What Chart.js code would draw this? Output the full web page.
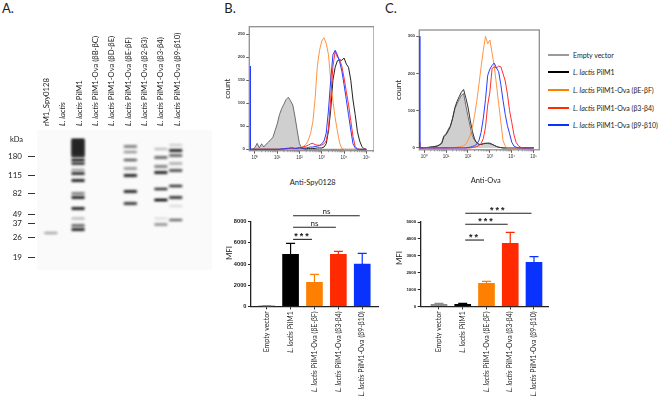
<!DOCTYPE html>
<html>
<head>
<meta charset="utf-8">
<script src="https://cdn.jsdelivr.net/npm/chart.js@4"></script>
<style>
  html, body { margin: 0; padding: 0; background: #fff; }
  body { width: 660px; height: 400px; position: relative; overflow: hidden; }
  canvas { position: absolute; }
  .note { position: absolute; white-space: nowrap; color: #222; font-family: Lato, sans-serif; transform: translate(-50%, -50%); }
  .key { position: absolute; left: 548px; width: 21px; height: 2px; }
  .keytext { position: absolute; left: 573px; white-space: nowrap; color: #222; font: 7px Lato, sans-serif; transform: translateY(-50%); }
</style>
</head>
<body>
<canvas id="blot"></canvas>
<canvas id="histB"></canvas>
<canvas id="histC"></canvas>
<canvas id="barB"></canvas>
<canvas id="barC"></canvas>
<script>
// ---- panel A: lanes and bands (distance = migration down the membrane) ----
const laneLabels = ['rM1_Spy0128', 'L. lactis', 'L. lactis PilM1', 'L. lactis PilM1-Ova (βB-βC)', 'L. lactis PilM1-Ova (βD-βE)',
  'L. lactis PilM1-Ova (βE-βF)', 'L. lactis PilM1-Ova (β2-β3)', 'L. lactis PilM1-Ova (β3-β4)', 'L. lactis PilM1-Ova (β9-β10)'];
const kdaLabels = ['180', '115', '82', '49', '37', '26', '19'];
const kdaDist = [26, 45, 63, 84, 93, 107, 127];

const rm1Lane = 0.25, rm1Dist = [103], rm1Dark = [0.28];
const pilLane = 1.92;
const pilDist = [10, 12, 14, 16, 18, 20, 22, 24, 26, 30, 33.5, 40, 43.5, 50.5, 63.5, 67.5, 78.5, 88.5, 95.5, 99.5];
const pilDark = [1, 1, 1, 1, 1, 1, 1, 0.9, 0.8, 0.85, 0.8, 0.3, 0.85, 1, 0.5, 1, 1, 0.22, 0.6, 0.9];
const befLane = 5.13;
const befDist = [16.5, 22, 30, 38.5, 45.5, 61.5, 73.5];
const befDark = [0.5, 0.35, 0.55, 0.4, 1, 0.9, 0.8];
const b34Lane = 7;
const b34Dist = [19, 27.5, 36.5, 42.5, 59, 70, 88.5, 94.5];
const b34Dark = [0.2, 0.6, 0.5, 1, 0.7, 0.9, 0.1, 0.4];
const b910Lane = 7.91;
const b910Dist = [15, 20.5, 25.5, 33.5, 40.5, 56, 67.5, 76, 90];
const b910Dark = [0.15, 0.9, 0.6, 0.3, 0.7, 0.7, 0.8, 0.1, 0.5];

// ---- flow cytometry histograms: shared fluorescence bins, one row per decade ----
const histX = [0.63, 0.63, 0.8,
  1, 1.26, 1.58, 2, 2.51, 3.16, 3.98, 5.01, 6.31, 7.94,
  10, 12.6, 15.8, 20, 25.1, 31.6, 39.8, 50.1, 63.1, 79.4,
  100, 126, 158, 200, 251, 316, 398, 501, 631, 794,
  1000, 1260, 1580, 2000, 2510, 3160, 3980, 5010, 6310, 7940,
  10000, 12600, 15800, 20000, 25100, 31600, 39800, 50100, 63100, 79400,
  100000];
const histXTicks = [1, 10, 100, 1000, 10000, 100000];
const histXLabels = ['10⁰', '10¹', '10²', '10³', '10⁴', '10⁵'];

const bYTicks = [0, 50, 100, 150, 200, 250];
const bEmpty = [0, 0, 0,
  4, 13, 3, 12, 5, 11, 15, 21, 25, 40,
  55, 75, 88, 98, 108, 113, 105, 96, 70, 40,
  12, 3, 1, 0, 0, 0, 0, 0, 0, 0,
  0, 0, 0, 0, 0, 0, 0, 0, 0, 0,
  0, 0, 0, 0, 0, 0, 0, 0, 0, 0,
  0];
const bPil = [0, 0, 0,
  0, 0, 0, 0, 0, 0, 0, 0, 0, 0,
  0, 0, 0, 0, 0, 1, 1, 1, 1, 1,
  1, 1, 1, 1, 2, 2, 2, 2, 3, 3,
  3, 5, 12, 40, 85, 150, 178, 192, 194, 193,
  198, 185, 178, 150, 107, 75, 38, 18, 6, 1,
  0];
const bBEF = [0, 0, 0,
  0, 0, 0, 0, 0, 0, 0, 0, 0, 0,
  0, 0, 0, 0, 0, 1, 1, 1, 1, 1,
  2, 4, 7, 11, 20, 35, 60, 110, 180, 215,
  235, 242, 230, 205, 150, 105, 68, 40, 14, 2,
  0, 0, 0, 0, 0, 0, 0, 0, 0, 0,
  0];
const bB34 = [13, 0, 0,
  0, 0, 0, 0, 0, 0, 0, 0, 0, 0,
  0, 0, 1, 1, 2, 2, 3, 2, 2, 3,
  4, 4, 6, 7, 9, 12, 13, 10, 9, 9,
  9, 12, 18, 45, 110, 180, 212, 200, 195, 180,
  155, 125, 98, 62, 28, 6, 1, 0, 0, 0,
  0];
const bB910 = [180, 0, 0,
  0, 0, 0, 0, 0, 0, 0, 0, 0, 0,
  0, 0, 1, 1, 2, 2, 3, 3, 2, 2,
  3, 3, 3, 3, 4, 5, 5, 6, 7, 8,
  12, 18, 35, 85, 150, 205, 215, 205, 190, 170,
  140, 108, 75, 42, 12, 3, 0, 0, 0, 0,
  0];

const cYTicks = [0, 100, 200, 300];
const cEmpty = [0, 0, 0,
  1, 1, 2, 3, 3, 4, 6, 9, 14, 33,
  38, 50, 60, 80, 105, 119, 130, 142, 146, 115,
  85, 58, 33, 20, 13, 9, 10, 12, 13, 12,
  11, 9, 7, 4, 2, 1, 0, 0, 0, 0,
  0, 0, 0, 0, 0, 0, 0, 0, 0, 0,
  0];
const cPil = [0, 0, 0,
  1, 1, 1, 2, 3, 4, 5, 8, 12, 30,
  36, 46, 58, 80, 108, 125, 138, 150, 157, 135,
  110, 75, 45, 24, 14, 10, 9, 11, 12, 13,
  13, 10, 7, 4, 2, 1, 0, 0, 0, 0,
  0, 0, 0, 0, 0, 0, 0, 0, 0, 0,
  0];
const cBEF = [0, 0, 0,
  0, 0, 0, 0, 0, 0, 0, 0, 0, 0,
  0, 0, 0, 0, 1, 2, 3, 4, 6, 10,
  20, 34, 55, 87, 125, 170, 218, 262, 300, 280,
  290, 255, 220, 170, 119, 70, 20, 5, 0, 0,
  0, 0, 0, 0, 0, 0, 0, 0, 0, 0,
  0];
const cB34 = [15, 0, 0,
  0, 0, 0, 0, 0, 0, 0, 0, 0, 0,
  0, 0, 0, 0, 0, 0, 0, 0, 0, 0,
  0, 0, 1, 2, 4, 6, 12, 25, 56, 115,
  150, 214, 218, 215, 220, 218, 200, 180, 145, 100,
  68, 35, 15, 6, 2, 0, 0, 0, 0, 0,
  0];
const cB910 = [300, 0, 0,
  0, 0, 0, 0, 0, 0, 0, 0, 0, 0,
  0, 0, 0, 0, 0, 0, 0, 0, 0, 0,
  1, 2, 4, 6, 10, 20, 42, 80, 130, 195,
  212, 222, 228, 215, 205, 170, 128, 90, 60, 38,
  15, 5, 2, 0, 0, 0, 0, 0, 0, 0,
  0];

// ---- MFI bars ----
const barLabels = ['Empty vector', 'L. lactis PilM1', 'L. lactis PilM1-Ova (βE-βF)', 'L. lactis PilM1-Ova (β3-β4)', 'L. lactis PilM1-Ova (β9-β10)'];
const barColors = ['#8c8c8c', '#000000', '#ff8000', '#ff2a00', '#0a32ff'];
const bMfi = [30, 4910, 2270, 4910, 4000];
const bMfiTop = [60, 5950, 3020, 5200, 5000];
const bMfiTicks = [0, 2000, 4000, 6000, 8000];
const cMfi = [120, 120, 1365, 3735, 2610];
const cMfiTop = [175, 170, 1480, 4390, 2945];
const cMfiTicks = [0, 1000, 2000, 3000, 4000, 5000];
// significance lines: bar index from/to, height in MFI, label
const bSigTo = [2, 3, 4];
const bSigAt = [6330, 7470, 8560];
const bSigText = ['***', 'ns', 'ns'];
const cSigTo = [2, 3, 4];
const cSigAt = [3930, 4865, 5515];
const cSigText = ['**', '***', '***'];

const GREY_LINE = '#6f6f6f', GREY_FILL = '#cfcfcf', ORANGE = '#ff9445', RED = '#ff2f2f', BLUE = '#2a3cff';
const TEXT = '#222';

// ---- helpers ----
function place(canvas, left, top, w, h) {
  canvas.width = w; canvas.height = h;
  canvas.style.left = left + 'px'; canvas.style.top = top + 'px';
  canvas.style.width = w + 'px'; canvas.style.height = h + 'px';
}

function note(text, x, y, size, rotate) {
  const el = document.createElement('div');
  el.className = 'note';
  el.textContent = text;
  el.style.left = x + 'px'; el.style.top = y + 'px'; el.style.fontSize = size + 'px';
  if (rotate) el.style.transform = 'translate(-50%, -50%) rotate(-90deg)';
  document.body.appendChild(el);
}

function fixedSize(prop, val) {
  return s => {
    s[prop] = val;
    s.paddingLeft = s.paddingRight = s.paddingTop = s.paddingBottom = 0;
  };
}

// rotated label with the species name in italics
function rotLabel(ctx, text, x, y, size, endAnchored) {
  const sp = text.startsWith('L. lactis') ? 'L. lactis' : '';
  const rest = text.slice(sp.length);
  ctx.save();
  ctx.translate(x, y);
  ctx.rotate(-Math.PI / 2);
  ctx.textAlign = 'left';
  ctx.textBaseline = 'middle';
  ctx.fillStyle = TEXT;
  ctx.font = 'italic ' + size + 'px Lato';
  const w1 = ctx.measureText(sp).width;
  ctx.font = size + 'px Lato';
  const w2 = ctx.measureText(rest).width;
  const start = endAnchored ? -(w1 + w2) : 0;
  ctx.font = 'italic ' + size + 'px Lato';
  ctx.fillText(sp, start, 0);
  ctx.font = size + 'px Lato';
  ctx.fillText(rest, start + w1, 0);
  ctx.restore();
}

// ---- panel A ----
function bandSprite(dark) {
  const c = document.createElement('canvas');
  c.width = 22; c.height = 12;
  const g = c.getContext('2d');
  g.filter = 'blur(0.85px)';
  g.fillStyle = 'rgba(0,0,0,' + Math.min(1, dark * 1.1) + ')';
  g.fillRect(4.5, 4.7, 13, 2.6);
  return c;
}

function laneSet(lane, dist, dark) {
  const sprites = dark.map(bandSprite);
  return {
    type: 'scatter',
    data: dist.map(d => ({ x: lane, y: d })),
    pointRadius: 3,
    pointStyle: ctx => sprites[ctx.dataIndex]
  };
}

const blotCanvas = document.getElementById('blot');
place(blotCanvas, 0, 20, 220, 260);
new Chart(blotCanvas, {
  type: 'scatter',
  data: {
    datasets: [
      laneSet(rm1Lane, rm1Dist, rm1Dark),
      laneSet(pilLane, pilDist, pilDark),
      laneSet(befLane, befDist, befDark),
      laneSet(b34Lane, b34Dist, b34Dark),
      laneSet(b910Lane, b910Dist, b910Dark)
    ]
  },
  options: {
    responsive: false,
    animation: false,
    layout: { padding: { top: 110, right: 8, bottom: 10 } },
    plugins: { legend: { display: false }, tooltip: { enabled: false } },
    scales: {
      x: { type: 'linear', display: false, min: -0.718, max: 10.14 },
      y: {
        type: 'linear', reverse: true, min: 0, max: 140,
        afterFit: fixedSize('width', 35),
        afterBuildTicks: s => { s.ticks = kdaDist.map(v => ({ value: v })); },
        border: { display: false },
        grid: { drawOnChartArea: false, tickLength: 7, tickColor: '#333', tickWidth: 1 },
        ticks: {
          padding: 6, color: TEXT, font: { family: 'Lato', size: 8 },
          callback: v => kdaLabels[kdaDist.indexOf(v)]
        }
      }
    }
  },
  plugins: [{
    id: 'blotBack',
    beforeDatasetsDraw(chart) {
      const a = chart.chartArea, ctx = chart.ctx;
      ctx.save();
      ctx.fillStyle = '#fafafa';
      ctx.fillRect(a.left + 2, a.top, a.right - a.left - 2, a.bottom - a.top);
      ctx.restore();
    },
    afterDraw(chart) {
      laneLabels.forEach((t, i) => {
        rotLabel(chart.ctx, t, chart.scales.x.getPixelForValue(i), 106, 7.7, false);
      });
    }
  }]
});

// ---- panels B, C: histograms ----
function curve(ys, color, fill) {
  return {
    data: ys.map((y, i) => ({ x: histX[i], y: y })),
    borderColor: color,
    borderWidth: 1,
    pointRadius: 0,
    tension: 0,
    fill: fill ? 'origin' : false,
    backgroundColor: fill || 'transparent'
  };
}

function histChart(id, rect, plot, yMin, yMax, xMin, xMax, yTicks, series) {
  const canvas = document.getElementById(id);
  place(canvas, rect[0], rect[1], rect[2], rect[3]);
  new Chart(canvas, {
    type: 'line',
    data: { datasets: series },
    options: {
      responsive: false,
      animation: false,
      layout: { padding: { top: plot[1] - rect[1], right: rect[0] + rect[2] - plot[2] } },
      plugins: { legend: { display: false }, tooltip: { enabled: false } },
      scales: {
        x: {
          type: 'logarithmic', min: xMin, max: xMax,
          afterFit: fixedSize('height', rect[1] + rect[3] - plot[3]),
          afterBuildTicks: s => { s.ticks = histXTicks.map(v => ({ value: v })); },
          border: { display: false },
          grid: { drawOnChartArea: false, tickLength: 3, tickColor: '#333', tickWidth: 0.8 },
          ticks: {
            autoSkip: false, maxRotation: 0, padding: 1, color: '#333', font: { size: 4.5, family: 'Liberation Sans' },
            callback: v => histXLabels[histXTicks.indexOf(v)]
          }
        },
        y: {
          type: 'linear', min: yMin, max: yMax,
          afterFit: fixedSize('width', plot[0] - rect[0]),
          afterBuildTicks: s => { s.ticks = yTicks.map(v => ({ value: v })); },
          border: { display: false },
          grid: { drawOnChartArea: false, tickLength: 3, tickColor: '#333', tickWidth: 0.8 },
          ticks: { padding: 1.5, color: '#333', font: { size: 4.2, weight: 'bold', family: 'Liberation Sans' } },
          title: { display: true, text: 'count', color: TEXT, font: { family: 'Lato', size: 8 }, padding: 0 }
        }
      }
    },
    plugins: [{
      id: 'histFrame',
      beforeDatasetsDraw(chart) {
        const a = chart.chartArea, ctx = chart.ctx, x = chart.scales.x;
        ctx.save();
        ctx.strokeStyle = '#8f8f8f';
        ctx.lineWidth = 1.3;
        ctx.strokeRect(a.left, a.top, a.right - a.left, a.bottom - a.top);
        // minor log ticks
        ctx.strokeStyle = '#555';
        ctx.lineWidth = 0.5;
        ctx.beginPath();
        histXTicks.forEach(d => {
          for (let m = 2; m < 10; m++) {
            const v = d * m;
            if (v > xMax) continue;
            const px = x.getPixelForValue(v);
            ctx.moveTo(px, a.bottom);
            ctx.lineTo(px, a.bottom + 1.6);
          }
        });
        ctx.stroke();
        ctx.restore();
      }
    }]
  });
}

histChart('histB', [223, 20, 151, 145], [249.3, 26.7, 374, 150.7], -3, 266, 0.56, 220000, bYTicks, [
  curve(bB910, BLUE), curve(bB34, RED), curve(bBEF, ORANGE), curve(bPil, '#222'), curve(bEmpty, GREY_LINE, GREY_FILL)
]);
histChart('histC', [394, 20, 146, 145], [419.3, 30, 539.3, 149.8], -5, 317, 0.6, 180000, cYTicks, [
  curve(cB910, BLUE), curve(cB34, RED), curve(cBEF, ORANGE), curve(cPil, '#333'), curve(cEmpty, GREY_LINE, GREY_FILL)
]);

// ---- panels B, C: MFI bars ----
function mfiChart(id, rect, plot, xMin, xMax, yMax, vals, tops, yTicks, tickSize, sigTo, sigAt, sigText) {
  const canvas = document.getElementById(id);
  place(canvas, rect[0], rect[1], rect[2], rect[3]);
  new Chart(canvas, {
    type: 'bar',
    data: {
      datasets: [{
        data: vals.map((v, i) => ({ x: i, y: v })),
        backgroundColor: barColors,
        barThickness: 16
      }]
    },
    options: {
      responsive: false,
      animation: false,
      layout: { padding: { top: plot[1] - rect[1], right: rect[0] + rect[2] - plot[2] } },
      plugins: { legend: { display: false }, tooltip: { enabled: false } },
      scales: {
        x: {
          type: 'linear', offset: false, min: xMin, max: xMax,
          afterFit: fixedSize('height', rect[1] + rect[3] - plot[3]),
          afterBuildTicks: s => { s.ticks = barLabels.map((t, i) => ({ value: i })); },
          border: { color: '#222', width: 1.3 },
          grid: { drawOnChartArea: false, offset: false, tickLength: 3, tickColor: '#222', tickWidth: 1 },
          ticks: { display: false }
        },
        y: {
          type: 'linear', min: 0, max: yMax,
          afterFit: fixedSize('width', plot[0] - rect[0]),
          afterBuildTicks: s => { s.ticks = yTicks.map(v => ({ value: v })); },
          border: { color: '#222', width: 1.3 },
          grid: { drawOnChartArea: false, tickLength: 3, tickColor: '#222', tickWidth: 1 },
          ticks: {
            padding: 1.5, color: '#222', font: { size: tickSize, weight: 'bold', family: 'Liberation Sans' },
            callback: v => String(v)
          }
        }
      }
    },
    plugins: [{
      id: 'mfiExtras',
      afterDraw(chart) {
        const ctx = chart.ctx, x = chart.scales.x, y = chart.scales.y, a = chart.chartArea;
        ctx.save();
        // upper error bars
        tops.forEach((t, i) => {
          const px = x.getPixelForValue(i), p0 = y.getPixelForValue(vals[i]), p1 = y.getPixelForValue(t);
          ctx.strokeStyle = barColors[i];
          ctx.lineWidth = 1.2;
          ctx.beginPath();
          ctx.moveTo(px, p0); ctx.lineTo(px, p1);
          ctx.moveTo(px - 4.5, p1); ctx.lineTo(px + 4.5, p1);
          ctx.stroke();
        });
        // significance lines, all starting from the PilM1 bar
        sigTo.forEach((to, i) => {
          const x0 = x.getPixelForValue(1) + 2.5, x1 = x.getPixelForValue(to) - 2.5, py = y.getPixelForValue(sigAt[i]);
          ctx.strokeStyle = '#222';
          ctx.lineWidth = 1.1;
          ctx.beginPath();
          ctx.moveTo(x0, py); ctx.lineTo(x1, py);
          ctx.stroke();
          ctx.fillStyle = '#222';
          ctx.textAlign = 'center';
          ctx.textBaseline = 'middle';
          if (sigText[i] === 'ns') {
            ctx.font = '8px Lato';
            ctx.letterSpacing = '0px';
            ctx.fillText(sigText[i], (x0 + x1) / 2, py - 4);
          } else {
            ctx.font = 'bold 9px "Liberation Sans"';
            ctx.letterSpacing = '2px';
            ctx.fillText(sigText[i], (x0 + x1) / 2, py - 2.5);
          }
        });
        ctx.restore();
        barLabels.forEach((t, i) => {
          rotLabel(ctx, t, x.getPixelForValue(i), a.bottom + 5, 7, true);
        });
      }
    }]
  });
}

mfiChart('barB', [222, 200, 165, 200], [251, 221.7, 378, 306.3], -0.657, 4.66, 8000, bMfi, bMfiTop, bMfiTicks, 5.7, bSigTo, bSigAt, bSigText);
mfiChart('barC', [382, 200, 175, 200], [420.7, 222, 548, 306.3], -0.77, 4.59, 5000, cMfi, cMfiTop, cMfiTicks, 4.4, cSigTo, cSigAt, cSigText);

// ---- free text ----
note('A.', 8, 8, 13);
note('B.', 230, 8, 13);
note('C.', 391, 8, 13);
note('kDa', 16.5, 139, 7.5);
note('Anti-Spy0128', 312.7, 181.7, 7.5);
note('Anti-Ova', 485.7, 179.5, 7.5);
note('MFI', 229, 253, 8, true);
note('MFI', 399, 258, 8, true);

// ---- shared legend ----
const legendLabels = ['Empty vector', 'L. lactis PilM1', 'L. lactis PilM1-Ova (βE-βF)', 'L. lactis PilM1-Ova (β3-β4)', 'L. lactis PilM1-Ova (β9-β10)'];
const legendColors = ['#9a9a9a', '#000000', '#ff8000', '#ff2a00', '#0a32ff'];
const legendY = [55, 72, 90, 108, 125];
legendLabels.forEach((t, i) => {
  const k = document.createElement('div');
  k.className = 'key';
  k.style.top = (legendY[i] - 1) + 'px';
  k.style.background = legendColors[i];
  document.body.appendChild(k);
  const s = document.createElement('div');
  s.className = 'keytext';
  s.style.top = legendY[i] + 'px';
  s.innerHTML = t.replace('L. lactis', '<i>L. lactis</i>');
  document.body.appendChild(s);
});
</script>
</body>
</html>
